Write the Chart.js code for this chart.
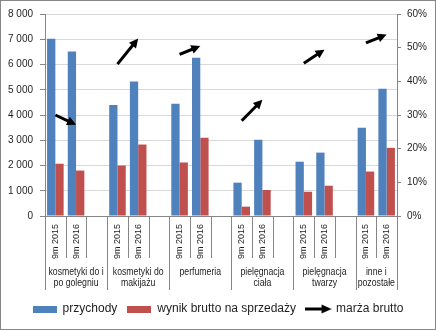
<!DOCTYPE html>
<html>
<head>
<meta charset="utf-8">
<script src="https://cdn.jsdelivr.net/npm/chart.js@4/dist/chart.umd.min.js"></script>
<style>
  html, body { margin: 0; padding: 0; background: #fff; }
  #wrap { width: 436px; height: 330px; }
</style>
</head>
<body>
<div id="wrap"><canvas id="c" width="436" height="330"></canvas></div>
<script>
// Sub-category per slot (blank slot separates product groups)
const categories = [
  '9m 2015', '9m 2016', '',
  '9m 2015', '9m 2016', '',
  '9m 2015', '9m 2016', '',
  '9m 2015', '9m 2016', '',
  '9m 2015', '9m 2016', '',
  '9m 2015', '9m 2016'
];

// Product groups and how many slots each one spans
const groupLabels = [
  ['kosmetyki do i', 'po golegniu'],
  ['kosmetyki do', 'makijażu'],
  ['perfumeria'],
  ['pielęgnacja', 'ciała'],
  ['pielęgnacja', 'twarzy'],
  ['inne i', 'pozostałe']
];
const groupSizes = [3, 3, 3, 3, 3, 2];

// Revenue (left axis)
const przychody = [7020, 6510, null, 4400, 5330, null, 4450, 6270, null, 1320, 3020, null, 2150, 2510, null, 3500, 5040];
// Gross result on sales (left axis)
const wynikBrutto = [2070, 1800, null, 2000, 2830, null, 2120, 3100, null, 370, 1030, null, 960, 1200, null, 1760, 2700];
// Gross margin in % (right axis)
const marzaBrutto = [30.0, 27.1, null, 45.1, 52.7, null, 48.0, 50.5, null, 28.3, 34.5, null, 45.4, 49.4, null, 51.4, 53.9];

// Axis ranges
const leftMax = 8000, leftStep = 1000;
const rightMax = 60, rightStep = 10;

const BLUE = '#4F81BD';
const RED = '#C0504D';
const AXIS = '#868686';
const GRID = '#D9D9D9';
const TEXT = '#1e1e1e';
const FONT = "'Liberation Sans', Arial, sans-serif";

function fmtThousands(v) {
  return String(v).replace(/\B(?=(\d{3})+(?!\d))/g, ' ');
}

function arrowPath(ctx, x0, y0, x1, y1, headLen, headHalf) {
  const ang = Math.atan2(y1 - y0, x1 - x0);
  const cos = Math.cos(ang), sin = Math.sin(ang);
  const bx = x1 - headLen * cos, by = y1 - headLen * sin;
  ctx.beginPath();
  ctx.moveTo(x0, y0);
  ctx.lineTo(bx + cos, by + sin);
  ctx.stroke();
  ctx.beginPath();
  ctx.moveTo(x1, y1);
  ctx.lineTo(bx - headHalf * sin, by + headHalf * cos);
  ctx.lineTo(bx + headHalf * sin, by - headHalf * cos);
  ctx.closePath();
  ctx.fill();
}

// Legend swatches
function rectSwatch(color) {
  const c = document.createElement('canvas');
  c.width = 24; c.height = 7;
  const g = c.getContext('2d');
  g.fillStyle = color;
  g.fillRect(0, 0, 24, 7);
  return c;
}
function arrowSwatch() {
  const c = document.createElement('canvas');
  c.width = 27; c.height = 10;
  const g = c.getContext('2d');
  g.strokeStyle = '#000';
  g.fillStyle = '#000';
  g.lineWidth = 3;
  g.lineCap = 'butt';
  arrowPath(g, 0, 5, 27, 5, 10, 4.5);
  return c;
}

// Background and outer frame
const framePlugin = {
  id: 'frame',
  beforeDraw(chart) {
    const ctx = chart.ctx;
    ctx.save();
    ctx.fillStyle = '#fff';
    ctx.fillRect(0, 0, chart.width, chart.height);
    ctx.restore();
  },
  afterDraw(chart) {
    const ctx = chart.ctx;
    ctx.save();
    ctx.strokeStyle = AXIS;
    ctx.lineWidth = 1;
    ctx.strokeRect(0.5, 0.5, chart.width - 1, chart.height - 1);
    ctx.restore();
  }
};

// Margin arrows between the two periods of each group
const arrowPlugin = {
  id: 'marginArrows',
  afterDatasetsDraw(chart) {
    const meta = chart.getDatasetMeta(2);
    const pts = meta.data;
    const ctx = chart.ctx;
    ctx.save();
    ctx.strokeStyle = '#000';
    ctx.fillStyle = '#000';
    ctx.lineWidth = 3;
    ctx.lineCap = 'butt';
    for (let i = 0; i < marzaBrutto.length - 1; i++) {
      if (marzaBrutto[i] == null || marzaBrutto[i + 1] == null) continue;
      const a = pts[i], b = pts[i + 1];
      arrowPath(ctx, a.x, a.y, b.x, b.y, 9, 4.5);
    }
    ctx.restore();
  }
};

// Two-level category axis: separators and group names
const groupAxisPlugin = {
  id: 'groupAxis',
  afterDraw(chart) {
    const xs = chart.scales.x;
    const ctx = chart.ctx;
    const slot = xs.width / categories.length;
    const top = Math.round(xs.top);
    const shortBottom = top + 42;
    const longBottom = top + 74;
    ctx.save();
    ctx.strokeStyle = AXIS;
    ctx.lineWidth = 1;
    const vline = (px, y2) => {
      const x = Math.round(px) + 0.5;
      ctx.beginPath();
      ctx.moveTo(x, top);
      ctx.lineTo(x, y2);
      ctx.stroke();
    };
    ctx.fillStyle = TEXT;
    ctx.font = '10px ' + FONT;
    ctx.textAlign = 'center';
    ctx.textBaseline = 'middle';
    let idx = 0;
    vline(xs.getPixelForValue(0) - slot / 2, longBottom);
    groupSizes.forEach((n, gi) => {
      for (let k = 1; k < n; k++) {
        vline(xs.getPixelForValue(idx + k) - slot / 2, shortBottom);
      }
      const left = xs.getPixelForValue(idx) - slot / 2;
      const right = xs.getPixelForValue(idx + n - 1) + slot / 2;
      vline(right, longBottom);
      const cx = (left + right) / 2;
      groupLabels[gi].forEach((line, li) => {
        // narrow lettering for the group names
        ctx.save();
        ctx.translate(cx, top + 56 + li * 11);
        ctx.scale(0.87, 1);
        ctx.fillText(line, 0, 0);
        ctx.restore();
      });
      idx += n;
    });
    ctx.restore();
  }
};

new Chart(document.getElementById('c'), {
  data: {
    labels: categories,
    datasets: [
      {
        type: 'bar',
        label: 'przychody',
        data: przychody,
        backgroundColor: BLUE,
        yAxisID: 'y',
        categoryPercentage: 0.8,
        barPercentage: 1.0,
        order: 2
      },
      {
        type: 'bar',
        label: 'wynik brutto na sprzedaży',
        data: wynikBrutto,
        backgroundColor: RED,
        yAxisID: 'y',
        categoryPercentage: 0.8,
        barPercentage: 1.0,
        order: 2
      },
      {
        type: 'line',
        label: 'marża brutto',
        data: marzaBrutto,
        yAxisID: 'y1',
        showLine: false,
        pointRadius: 0,
        pointHoverRadius: 0,
        borderColor: '#000',
        backgroundColor: '#000',
        spanGaps: false,
        order: 1
      }
    ]
  },
  options: {
    responsive: false,
    animation: false,
    devicePixelRatio: 1,
    layout: { padding: { top: 14, bottom: 5, left: 0, right: 0 } },
    plugins: {
      tooltip: { enabled: false },
      legend: {
        position: 'bottom',
        labels: {
          font: { family: FONT, size: 12 },
          color: TEXT,
          usePointStyle: true,
          pointStyleWidth: 24,
          padding: 10,
          generateLabels() {
            return [
              { text: 'przychody', pointStyle: rectSwatch(BLUE), datasetIndex: 0, hidden: false, lineWidth: 0, fontColor: TEXT },
              { text: 'wynik brutto na sprzedaży', pointStyle: rectSwatch(RED), datasetIndex: 1, hidden: false, lineWidth: 0, fontColor: TEXT },
              { text: 'marża brutto', pointStyle: arrowSwatch(), datasetIndex: 2, hidden: false, lineWidth: 0, fontColor: TEXT }
            ];
          }
        }
      }
    },
    scales: {
      x: {
        type: 'category',
        offset: true,
        grid: { display: false, drawTicks: false },
        border: { display: true, color: AXIS },
        ticks: {
          autoSkip: false,
          minRotation: 90,
          maxRotation: 90,
          padding: 8,
          color: TEXT,
          font: { family: FONT, size: 9 }
        },
        afterFit(s) { s.height = 77; }
      },
      y: {
        position: 'left',
        min: 0,
        max: leftMax,
        grid: { color: GRID, tickColor: AXIS, tickLength: 5, drawTicks: true },
        border: { display: true, color: AXIS },
        ticks: {
          stepSize: leftStep,
          padding: 7,
          color: TEXT,
          font: { family: FONT, size: 10 },
          callback: v => fmtThousands(v)
        },
        afterFit(s) { s.width = 45; }
      },
      y1: {
        position: 'right',
        min: 0,
        max: rightMax,
        grid: { drawOnChartArea: false, tickColor: AXIS, tickLength: 4, drawTicks: true },
        border: { display: true, color: AXIS },
        ticks: {
          stepSize: rightStep,
          padding: 6,
          color: TEXT,
          font: { family: FONT, size: 10 },
          callback: v => v + '%'
        },
        afterFit(s) { s.width = 39; }
      }
    }
  },
  plugins: [framePlugin, groupAxisPlugin, arrowPlugin]
});
</script>
</body>
</html>
